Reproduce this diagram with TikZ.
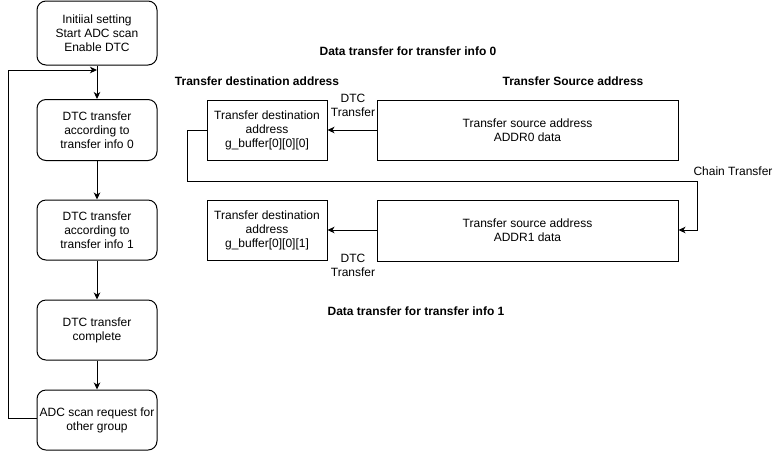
\documentclass[tikz,border=0pt]{standalone}
\usepackage{fontspec}
\setmainfont{Liberation Sans}
\usetikzlibrary{arrows.meta}
\begin{document}
\begin{tikzpicture}[x=1pt,y=-1pt,
  txt/.style={font=\fontsize{12}{14}\selectfont,align=center,inner sep=0pt},
  flowbox/.style={txt,draw,rounded corners=9pt,minimum width=120pt,line width=1pt},
  sqbox/.style={txt,draw,line width=1pt},
  ttl/.style={txt,font=\fontsize{12}{14}\selectfont\bfseries},
  conn/.style={line width=1pt},
  arr/.style={conn,-{Stealth[length=7pt,width=6.5pt,inset=2pt]}}]
\useasboundingbox (0,0) rectangle (778,451);
% left flow
\node[flowbox,minimum height=64pt] (b1) at (97,33) {Initiial setting\\Start ADC scan\\Enable DTC};
\node[flowbox,minimum height=61pt] (b2) at (97,130) {DTC transfer\\according to\\transfer info 0};
\node[flowbox,minimum height=60pt] (b3) at (97,230) {DTC transfer\\according to\\transfer info 1};
\node[flowbox,minimum height=60pt] (b4) at (97,330) {DTC transfer\\complete};
\node[flowbox,minimum height=60pt] (b5) at (97,420) {ADC scan request for\\other group};
\coordinate (j) at (97,70);
\coordinate (l1) at (8,418);
\coordinate (l2) at (8,70);
\draw[arr] (b1.south) -- (b2.north);
\draw[arr] (b2.south) -- (b3.north);
\draw[arr] (b3.south) -- (b4.north);
\draw[arr] (b4.south) -- (b5.north);
\draw[arr] (b5.west |- l1) -- (l1) -- (l2) -- (j);
% titles
\node[ttl] (t0) at (408,51) {Data transfer for transfer info 0};
\node[ttl] (t1) at (416,311) {Data transfer for transfer info 1};
\node[ttl] (hd) at (257,81) {Transfer destination address};
\node[ttl] (hs) at (573,81) {Transfer Source address};
% boxes
\node[sqbox,minimum width=120pt,minimum height=60pt] (d0) at (267,130) {Transfer destination\\address\\g\_buffer[0][0][0]};
\node[sqbox,minimum width=301pt,minimum height=60pt] (s0) at (527.5,130) {Transfer source address\\ADDR0 data};
\node[sqbox,minimum width=120pt,minimum height=60pt] (d1) at (267,230) {Transfer destination\\address\\g\_buffer[0][0][1]};
\node[sqbox,minimum width=301pt,minimum height=61pt] (s1) at (527.5,230.5) {Transfer source address\\ADDR1 data};
\draw[arr] (s0.west) -- (d0.east);
\draw[arr] (s1.west |- d1.east) -- (d1.east);
\node[txt] (l0) at (353,105) {DTC\\Transfer};
\node[txt] (l1b) at (353,265) {DTC\\Transfer};
% chain
\coordinate (c1) at (187,130);
\coordinate (c2) at (187,181);
\coordinate (c3) at (697,181);
\coordinate (c4) at (697,230);
\draw[arr] (d0.west) -- (c1) -- (c2) -- (c3) -- (c4) -- (s1.east |- c4);
\node[txt] (ct) at (733,171) {Chain Transfer};
\end{tikzpicture}
\end{document}
